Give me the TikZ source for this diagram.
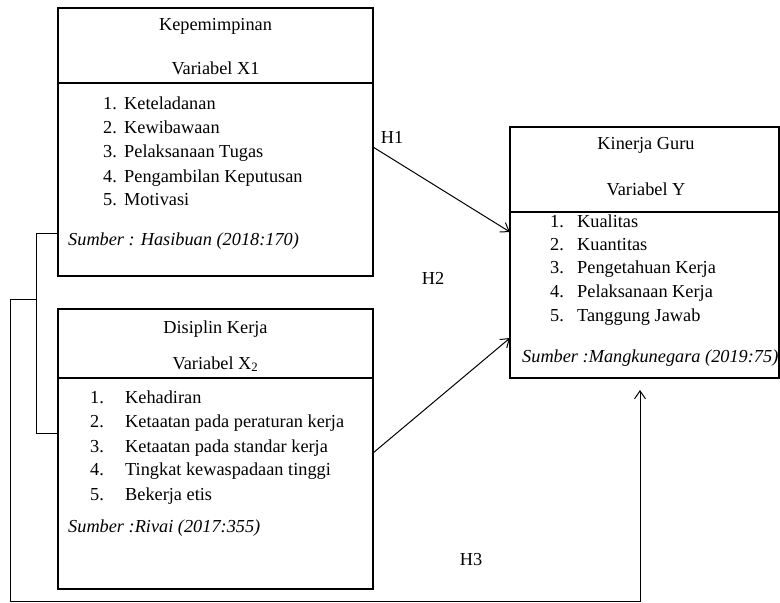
\documentclass[tikz,border=0pt]{standalone}
\usepackage{fontspec}
\setmainfont{Liberation Serif}
\usetikzlibrary{arrows.meta}
\begin{document}
\begin{tikzpicture}[x=1pt,y=-1pt,
  boxline/.style={line width=1.1pt},
  box/.style={draw, boxline, inner sep=0pt, outer sep=0pt, anchor=north west},
  txt/.style={font=\fontsize{18.3}{22}\selectfont, anchor=base, inner sep=0pt},
  txtl/.style={txt, anchor=base west},
  src/.style={txtl, font=\fontsize{18.3}{22}\selectfont\itshape},
  conn/.style={line width=1pt},
  arr/.style={conn, -{Straight Barb[length=8pt,width=11pt]}}]
\useasboundingbox (0,0) rectangle (780,603);

% boxes
\node[box, minimum width=315pt, minimum height=268pt] (bx1) at (58,8) {};
\node[box, minimum width=315pt, minimum height=280pt] (bx2) at (58,309) {};
\node[box, minimum width=269pt, minimum height=251pt] (by) at (510,127) {};

% dividers
\coordinate (d1a) at (58,83);  \coordinate (d1b) at (373,83);
\coordinate (d2a) at (58,378); \coordinate (d2b) at (373,378);
\coordinate (d3a) at (510,212); \coordinate (d3b) at (779,212);
\draw[boxline] (d1a) -- (d1b);
\draw[boxline] (d2a) -- (d2b);
\draw[boxline] (d3a) -- (d3b);

% box X1
\node[txt] (x1t) at (215.5,30) {Kepemimpinan};
\node[txt] (x1v) at (215.5,74) {Variabel X1};
\foreach \ii/\ww/\yy in {1/Keteladanan/109, 2/Kewibawaan/133, 3/Pelaksanaan Tugas/157, 4/Pengambilan Keputusan/182, 5/Motivasi/205}{
  \node[txtl] (x1n\ii) at (103,\yy) {\ii.};
  \node[txtl] (x1i\ii) at (124,\yy) {\ww};
}
\node[src] (x1s) at (68,245) {Sumber : Hasibuan (2018:170)};

% box X2
\node[txt] (x2t) at (215.5,333) {Disiplin Kerja};
\node[txt] (x2v) at (215.5,369) {Variabel X\textsubscript{2}};
\foreach \ii/\ww/\yy in {1/Kehadiran/403, 2/Ketaatan pada peraturan kerja/427, 3/Ketaatan pada standar kerja/452, 4/Tingkat kewaspadaan tinggi/475, 5/Bekerja etis/500}{
  \node[txtl] (x2n\ii) at (90,\yy) {\ii.};
  \node[txtl] (x2i\ii) at (125,\yy) {\ww};
}
\node[src] (x2s) at (68,532) {Sumber :Rivai (2017:355)};

% box Y
\node[txt] (yt) at (646,149) {Kinerja Guru};
\node[txt] (yv) at (646,195) {Variabel Y};
\foreach \ii/\ww/\yy in {1/Kualitas/227, 2/Kuantitas/250, 3/Pengetahuan Kerja/273, 4/Pelaksanaan Kerja/297, 5/Tanggung Jawab/321}{
  \node[txtl] (yn\ii) at (550,\yy) {\ii.};
  \node[txtl] (yi\ii) at (577,\yy) {\ww};
}
\node[src] (ys) at (522,362) {Sumber :Mangkunegara (2019:75)};

% connectors
\coordinate (h1a) at (373,147); \coordinate (h1b) at (510,232);
\coordinate (h2a) at (373,453); \coordinate (h2b) at (510,338);
\draw[arr] (h1a) -- (h1b);
\draw[arr] (h2a) -- (h2b);

\coordinate (b1) at (58,233); \coordinate (b2) at (36,233);
\coordinate (b3) at (36,433); \coordinate (b4) at (58,433);
\draw[conn] (b1) -- (b2) -- (b3) -- (b4);

\coordinate (h3s) at (36,299); \coordinate (h3c1) at (10,299);
\coordinate (h3c2) at (10,601); \coordinate (h3c3) at (640,601);
\coordinate (h3e) at (640,390);
\draw[arr] (h3s) -- (h3c1) -- (h3c2) -- (h3c3) -- (h3e);

% labels
\node[txt] (lh1) at (392,143) {H1};
\node[txt] (lh2) at (433,284) {H2};
\node[txt] (lh3) at (471,565) {H3};
\end{tikzpicture}
\end{document}
